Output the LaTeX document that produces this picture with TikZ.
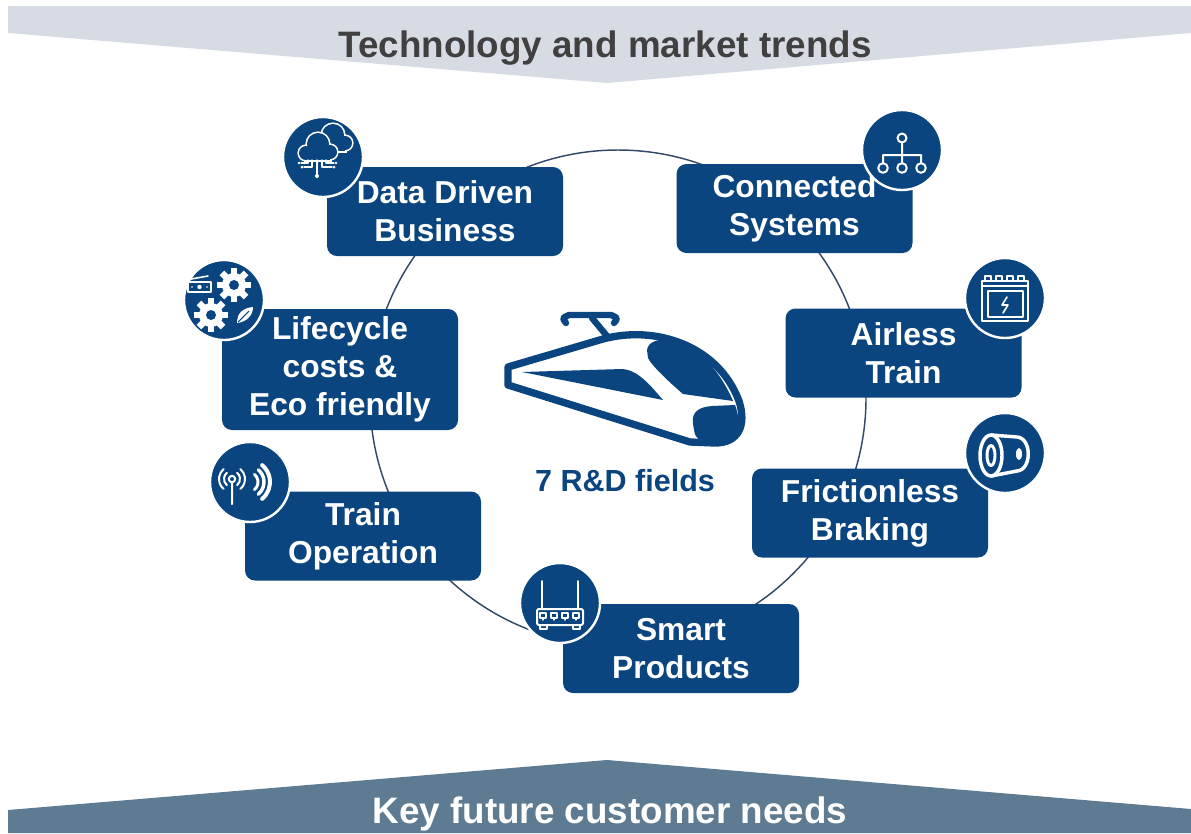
\documentclass[tikz,border=0pt]{standalone}
\usepackage{fontspec}
\setmainfont{Liberation Sans}
\usetikzlibrary{positioning}
\definecolor{fieldblue}{HTML}{0B4580}
\definecolor{trendgrey}{HTML}{D7DCE4}
\definecolor{needsblue}{HTML}{5E7B92}
\definecolor{ringline}{HTML}{34496A}
\definecolor{bannertext}{HTML}{404040}
\tikzset{field/.style = {fill=fieldblue, rounded corners=7.5pt, text=white,
                         align=center, inner sep=0pt,
                         font=\fontsize{23.8}{28.5}\selectfont\bfseries,
                         minimum width=177pt, minimum height=66.75pt},
         badge/.style = {circle, fill=fieldblue, draw=white, line width=1.8pt,
                         minimum size=60pt, inner sep=0pt},
         icon/.style  = {draw=white, line width=1.5pt, line cap=round, line join=round},
         banner/.style = {font=\fontsize{27.6}{33}\selectfont\bfseries}}
% cloud made of bubbles: x/y/radius, last entry is the flat base
\newcommand{\cloud}[2]{%
  \foreach \cx/\cy/\cr in {-11/2/7, 1/-7/11, 13/1/7}
    \draw [white, line width=2.4pt] (#1+\cx,#2+\cy) circle (\cr);
  \draw [white, line width=2.4pt] (#1-11,#2+2) -- (#1-11,#2+9) -- (#1+13,#2+9) -- (#1+13,#2+2);
  \foreach \cx/\cy/\cr in {-11/2/7, 1/-7/11, 13/1/7}
    \fill [fieldblue] (#1+\cx,#2+\cy) circle (\cr);
  \fill [fieldblue] (#1-11,#2) rectangle (#1+13,#2+9);}

\begin{document}
\begin{tikzpicture}[x=0.75pt, y=-0.75pt]
      \useasboundingbox (0,0) rectangle (1191,833);

      % banners
      \fill [trendgrey] (8,6) -- (1191,6) -- (1191,33) -- (607,83) -- (8,33) -- cycle;
      \node [banner, text=bannertext] (trends) at (605,48) {Technology and market trends};
      \fill [needsblue] (8,810) -- (607,760) -- (1191,809) -- (1191,833) -- (8,833) -- cycle;
      \node [banner, text=white] (needs) at (610,814) {Key future customer needs};

      % ring behind the fields
      \draw [ringline, line width=1.1pt] (618,398) circle (248);

      % train
      \draw [fieldblue, line width=4.8pt, line cap=round, line join=round]
            (566,323) .. controls (562,318) .. (569,315) -- (611,315) .. controls (618,318) .. (614,323);
      \draw [fieldblue, line width=4.8pt, line cap=round] (592,318) -- (607,336);
      \draw [fieldblue, fill=white, line width=5.5pt, line join=round]
            (508,367) -- (603,339) .. controls (655,325) and (718,345) .. (739,401)
            .. controls (747,426) and (738,443) .. (715,443) -- (690,442) -- (508,385) -- cycle;
      \fill [fieldblue] (522,372) -- (622,369) .. controls (638,370) and (650,385) .. (663,400) -- cycle;
      \fill [fieldblue] (647,350) .. controls (648,341) and (660,338) .. (674,340)
            .. controls (702,349) and (722,375) .. (733,401) -- (683,394)
            .. controls (668,381) and (652,366) .. (648,358) -- cycle;
      \fill [fieldblue] (693,424) .. controls (691,411) and (700,407) .. (712,406) -- (735,405)
            .. controls (740,418) and (740,432) .. (735,440) -- (700,440) .. controls (695,436) .. cycle;
      \node [text=fieldblue, font=\fontsize{22.9}{27}\selectfont\bfseries] (rd) at (625,481) {7 R\&D fields};

      % the seven fields
      \node [field] (data) at (445,211.5) {Data Driven\\Business};
      \node [field] (conn) at (794.5,208.5) {Connected\\Systems};
      \node [field, minimum height=90.75pt] (life) at (340,369.5) {Lifecycle\\costs \&\\Eco friendly};
      \node [field] (airless) at (903.5,353) {Airless\\Train};
      \node [field] (trainop) at (363,536) {Train\\Operation};
      \node [field] (fric) at (870,513) {Frictionless\\Braking};
      \node [field] (smart) at (681,648.5) {Smart\\Products};

      \node [badge] (dataicon) at (323,157) {};
      \node [badge] (connicon) at (902,150) {};
      \node [badge] (lifeicon) at (224,300) {};
      \node [badge] (airlessicon) at (1005,298) {};
      \node [badge] (trainopicon) at (250,482) {};
      \node [badge] (fricicon) at (1005,453) {};
      \node [badge] (smarticon) at (560,603) {};

      % cloud with circuit
      \begin{scope}[shift={(dataicon.center)}]
        \cloud{9}{-15}
        \cloud{-6}{-6}
        \draw [icon, line width=0.9pt] (-6,3) -- (-6,17) (-11,3) -- (-11,10) -- (-19,10)
              (-15,3) -- (-15,6) -- (-22,6) (-1,3) -- (-1,10) -- (9,10) (3,3) -- (3,6) -- (11,6);
        \fill [white] (-6,19) circle (2) (-21,10) circle (1.5) (11,10) circle (1.5)
              (-24,6) circle (1.3) (13,6) circle (1.3);
      \end{scope}

      % hierarchy
      \begin{scope}[shift={(connicon.center)}]
        \draw [icon] (0,-12) circle (4.5) (0,-7.5) -- (0,13)
              (-19,13) -- (-19,5) -- (19,5) -- (19,13);
        \foreach \x in {-19,0,19}
          \draw [icon] (\x,18) circle (4.8);
      \end{scope}

      % money, gears and leaf
      \begin{scope}[shift={(lifeicon.center)}]
        \draw [icon, line width=1.2pt] (-36,-18) rectangle (-13,-8) (-33,-21) -- (-16,-24);
        \fill [white] (-24.5,-13) circle (2.2) (-32,-13) circle (0.9) (-17,-13) circle (0.9);
        \foreach \gx/\gy in {10/-15, -13/15} {
          \fill [white] (\gx,\gy) circle (12);
          \foreach \a in {0,45,...,315}
            \fill [white, shift={(\gx,\gy)}, rotate=\a] (-3.2,8) rectangle (3.2,17);
          \fill [fieldblue] (\gx,\gy) circle (5);
        }
        \fill [white] (13,23) .. controls (13,12) and (20,8) .. (29,7)
              .. controls (29,16) and (22,22) .. (13,23) -- cycle;
        \draw [fieldblue, line width=0.8pt] (14,22) -- (25,11);
      \end{scope}

      % battery
      \begin{scope}[shift={(airlessicon.center)}]
        \draw [icon, line width=1.3pt] (-23,-17) rectangle (23,23) (-23,-12) -- (23,-12)
              (-17,-7) rectangle (18,19);
        \foreach \x in {-20,-9,2,13}
          \draw [icon, line width=1.3pt] (\x,-17) -- (\x,-22) -- (\x+6,-22) -- (\x+6,-17);
        \draw [icon, line width=1.2pt] (2,-1) -- (-3,7) -- (3,7) -- (-2,15);
      \end{scope}

      % antenna and radio waves
      \begin{scope}[shift={(trainopicon.center)}]
        \draw [icon] (-18,-3) circle (3.2) (-18,0.5) -- (-18,22);
        \foreach \r in {8,13}
          \draw [icon] (-18,-3) ++(130:\r) arc (130:230:\r)
                       (-18,-3) ++(50:\r) arc (50:-50:\r);
        \foreach \r/\w in {10/2.2pt,16/2.6pt,22/3pt}
          \draw [icon, line width=\w] (-2,0) ++(50:\r) arc (50:-50:\r);
      \end{scope}

      % brake drum
      \begin{scope}[shift={(fricicon.center)}]
        \draw [icon, line width=2.6pt] (-14,-18) -- (12,-16) .. controls (27,-15) and (27,17) .. (12,18) -- (-14,23);
        \draw [icon, line width=2.6pt] (-14,2.5) ellipse (11 and 20.5);
        \draw [icon, line width=2.2pt] (-14,2.5) ellipse (4 and 10);
        \fill [white] (14,1) ellipse (3 and 6);
      \end{scope}

      % router
      \begin{scope}[shift={(smarticon.center)}]
        \draw [icon] (-18,6) -- (-18,-22) (18,6) -- (18,-22);
        \draw [icon, rounded corners=1.5pt] (-23,6) rectangle (23,22);
        \foreach \x in {-17,-6,5,16}
          \draw [icon, line width=1.1pt] (\x-3,10) rectangle (\x+3,15) (\x,15) -- (\x,17);
        \draw [icon] (-20,22) -- (-20,26) -- (-13,26) -- (-13,22) (13,22) -- (13,26) -- (20,26) -- (20,22);
      \end{scope}
\end{tikzpicture}
\end{document}
